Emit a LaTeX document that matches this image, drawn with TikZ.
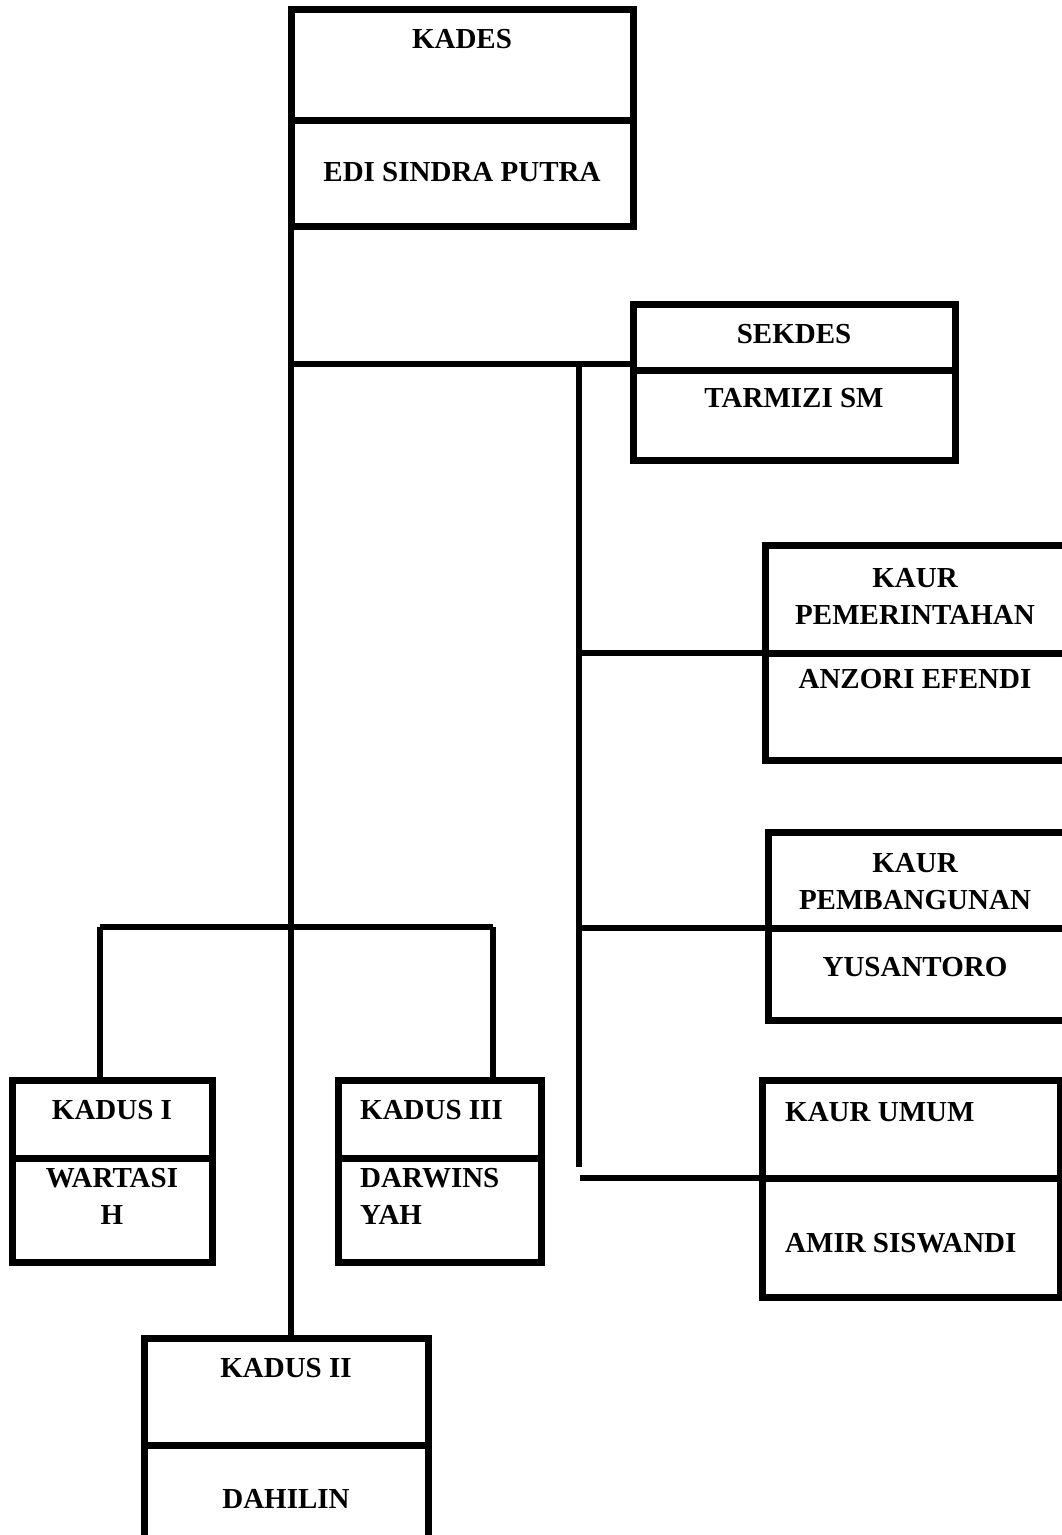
\documentclass[tikz,border=0pt]{standalone}
\usepackage{fontspec}
\setmainfont{Liberation Serif}
\usepackage{tikz}
\usetikzlibrary{positioning}

\tikzset{
  cell/.style={draw, line width=7pt, rectangle, inner sep=0pt, outer sep=0pt, anchor=north west},
  lbl/.style={inner sep=0pt, align=center, font=\fontsize{29}{37}\selectfont\bfseries},
  link/.style={line width=6.5pt}
}

\begin{document}
\begin{tikzpicture}[x=1pt, y=-1pt]
        \clip (0,0) rectangle (1062,1535);
        % kepala desa
        \node[cell, minimum width=342pt, minimum height=111pt] (kadesA) at (291,9) {};
        \node[cell, minimum width=342pt, minimum height=106pt] (kadesB) at (291,120) {};
        \node[lbl] (kadesT) at (462,39) {KADES};
        \node[lbl] (kadesN) at (462,172) {EDI SINDRA PUTRA};

        % sekretaris desa
        \node[cell, minimum width=322pt, minimum height=66pt] (sekdesA) at (633,304) {};
        \node[cell, minimum width=322pt, minimum height=90pt] (sekdesB) at (633,370) {};
        \node[lbl] (sekdesT) at (794,334) {SEKDES};
        \node[lbl] (sekdesN) at (794,398) {TARMIZI SM};

        % kaur pemerintahan
        \node[cell, minimum width=302pt, minimum height=108pt] (pemA) at (765,545) {};
        \node[cell, minimum width=302pt, minimum height=107pt] (pemB) at (765,653) {};
        \node[lbl] (pemT) at (915,596) {KAUR\\PEMERINTAHAN};
        \node[lbl] (pemN) at (915,679) {ANZORI EFENDI};

        % kaur pembangunan
        \node[cell, minimum width=299pt, minimum height=96pt] (bangA) at (768,832) {};
        \node[cell, minimum width=299pt, minimum height=92pt] (bangB) at (768,928) {};
        \node[lbl] (bangT) at (915,882) {KAUR\\PEMBANGUNAN};
        \node[lbl] (bangN) at (915,967) {YUSANTORO};

        % kaur umum
        \node[cell, minimum width=298pt, minimum height=98pt] (umumA) at (762,1080) {};
        \node[cell, minimum width=298pt, minimum height=119pt] (umumB) at (762,1178) {};
        \node[lbl, anchor=west] (umumT) at (785,1112) {KAUR UMUM};
        \node[lbl, anchor=west] (umumN) at (785,1243) {AMIR SISWANDI};

        % kadus I
        \node[cell, minimum width=200pt, minimum height=78pt] (dusIA) at (12,1080) {};
        \node[cell, minimum width=200pt, minimum height=104pt] (dusIB) at (12,1158) {};
        \node[lbl] (dusIT) at (112,1110) {KADUS I};
        \node[lbl] (dusIN) at (112,1196) {WARTASI\\H};

        % kadus III
        \node[cell, minimum width=203pt, minimum height=78pt] (dusIIIA) at (338,1080) {};
        \node[cell, minimum width=203pt, minimum height=104pt] (dusIIIB) at (338,1158) {};
        \node[lbl, anchor=west] (dusIIIT) at (360,1110) {KADUS III};
        \node[lbl, anchor=west, align=left] (dusIIIN) at (360,1196) {DARWINS\\YAH};

        % kadus II
        \node[cell, minimum width=284pt, minimum height=107pt] (dusIIA) at (144,1338) {};
        \node[cell, minimum width=284pt, minimum height=100pt] (dusIIB) at (144,1445) {};
        \node[lbl] (dusIIT) at (286,1368) {KADUS II};
        \node[lbl] (dusIIN) at (286,1499) {DAHILIN};

        % junctions
        \coordinate (jSek) at (292,364);
        \coordinate (jKaur) at (579,364);
        \coordinate (jKaurEnd) at (579,1167);
        \coordinate (jUmum) at (580,1178);
        \coordinate (jDusL) at (100,927);
        \coordinate (jDusR) at (493,927);

        % lines
        \draw[link] (kadesB.south west) -- (kadesB.south west |- dusIIA.north);
        \draw[link] (jSek) -- (jSek -| sekdesA.west);
        \draw[link] (jKaur) -- (jKaurEnd);
        \draw[link] (jKaur |- pemB.north west) -- (pemB.north west);
        \draw[link] (jKaur |- bangB.north west) -- (bangB.north west);
        \draw[link] (jUmum) -- (umumB.north west);
        \draw[link] (jDusL) -- (jDusR);
        \draw[link] (jDusL) -- (jDusL |- dusIA.north);
        \draw[link] (jDusR) -- (jDusR |- dusIIIA.north);
\end{tikzpicture}
\end{document}
